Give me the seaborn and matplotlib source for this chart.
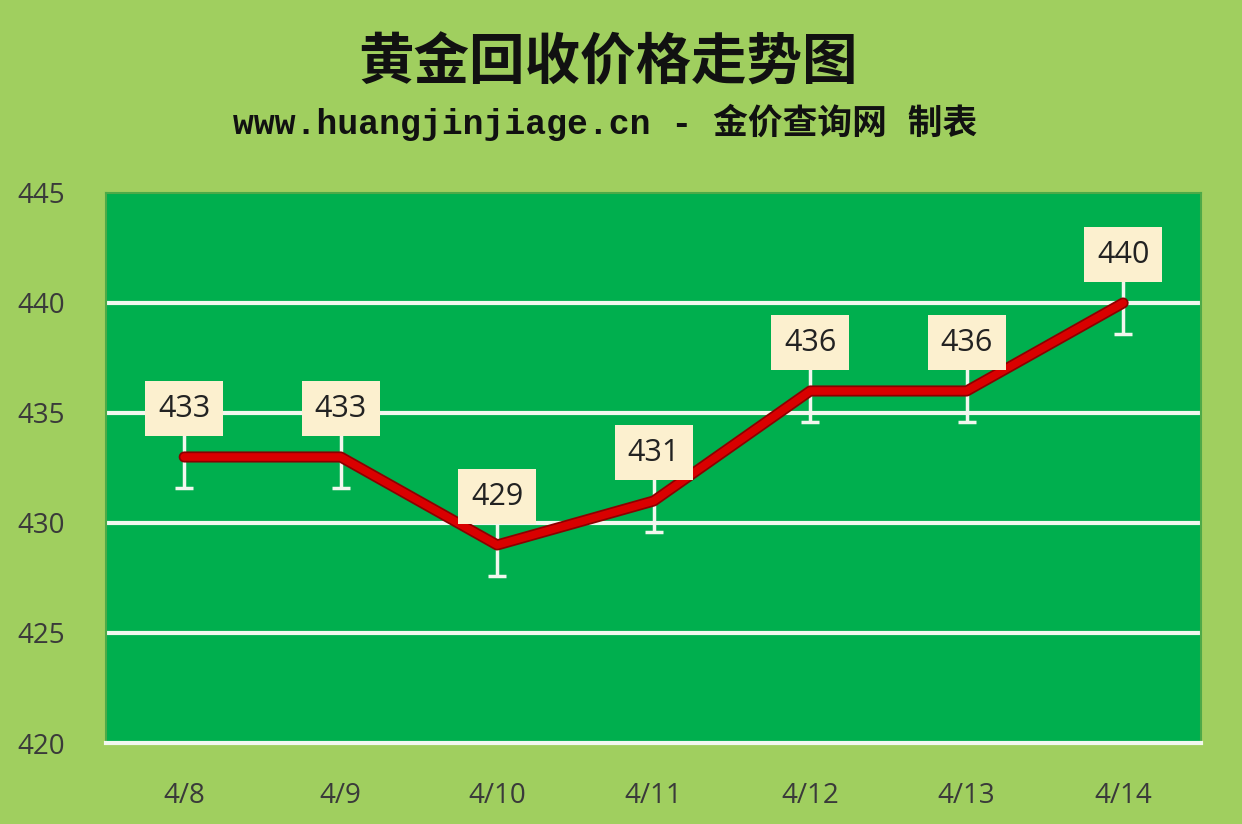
import numpy as np
import pandas as pd
import matplotlib
matplotlib.use("Agg")
import matplotlib.pyplot as plt
import seaborn as sns

# ==========================================
# Data
# ==========================================

dates = ["4/8", "4/9", "4/10", "4/11", "4/12", "4/13", "4/14"]
prices = [433, 433, 429, 431, 436, 436, 440]
y_ticks = [420, 425, 430, 435, 440, 445]

title = "黄金回收价格走势图"
subtitle = "www.huangjinjiage.cn - 金价查询网 制表"

df = pd.DataFrame({"date": dates, "price": prices})
df["pos"] = np.arange(len(dates))

# ==========================================
# Style
# ==========================================

sns.set_theme(style="white")
plt.rcParams["font.family"] = ["Noto Sans CJK SC", "DejaVu Sans"]

outer_bg = "#A0CF5F"
plot_bg = "#00AF4E"

fig = plt.figure(figsize=(12.42, 8.24), dpi=100)
fig.patch.set_facecolor(outer_bg)

ax = fig.add_axes([0.0853, 0.0983, 0.882, 0.6675])
ax.set_facecolor(plot_bg)

# gridlines
for v in y_ticks[1:-1]:
    ax.axhline(v, color="#F2F7EE", linewidth=3, zorder=1)

# error bars (white, with cap)
ax.errorbar(
    df["pos"], df["price"], yerr=1.4,
    fmt="none", ecolor="#F2F7EE", elinewidth=2.5,
    capsize=6.5, capthick=2.5, zorder=2
)

# line
sns.lineplot(
    data=df, x="pos", y="price", ax=ax,
    color="#8B0000", linewidth=8, zorder=3,
    solid_capstyle="round", solid_joinstyle="round"
)
sns.lineplot(
    data=df, x="pos", y="price", ax=ax,
    color="#D90000", linewidth=5.5, zorder=4,
    solid_capstyle="round", solid_joinstyle="round"
)

# value label boxes
for x, v in zip(df["pos"], df["price"]):
    ax.text(
        x, v + 2.2, str(v),
        ha="center", va="center", fontsize=22, color="#222222",
        family=["Open Sans", "DejaVu Sans"],
        bbox=dict(boxstyle="square,pad=0.42", facecolor="#FCF0CF",
                  edgecolor="none"),
        zorder=5
    )

ax.set_xlim(-0.5, len(dates) - 0.5)
ax.set_ylim(420, 445)
ax.set_yticks(y_ticks)
ax.set_yticklabels([str(t) for t in y_ticks], fontsize=20, color="#3A3A3A",
                   family=["Open Sans", "DejaVu Sans"])
ax.set_xticks(df["pos"])
ax.set_xticklabels(dates, fontsize=20, color="#3A3A3A",
                   family=["Open Sans", "DejaVu Sans"])
ax.set_xticks(np.arange(-0.5, len(dates)), minor=True)
ax.tick_params(axis="x", which="major", length=0, pad=28)
ax.tick_params(axis="x", which="minor", length=7, width=2.5,
               color="#F2F7EE", direction="out")
ax.tick_params(axis="y", length=0, pad=64)
for lbl in ax.get_yticklabels():
    lbl.set_horizontalalignment("left")

ax.set_xlabel("")
ax.set_ylabel("")

for side in ["top", "right", "left"]:
    ax.spines[side].set_color("#4DAA48")
    ax.spines[side].set_linewidth(1.5)
ax.spines["bottom"].set_color("#F2F7EE")
ax.spines["bottom"].set_linewidth(3)

# ==========================================
# Titles
# ==========================================

fig.text(0.490, 0.923, title, ha="center", va="center",
         fontsize=40, fontweight="bold", color="#111111")
fig.text(0.487, 0.851, subtitle, ha="center", va="center",
         fontsize=25, fontweight="bold", color="#111111",
         family=["Liberation Mono", "Noto Sans CJK SC"])

plt.savefig("out.png", dpi=100, facecolor=fig.get_facecolor())
